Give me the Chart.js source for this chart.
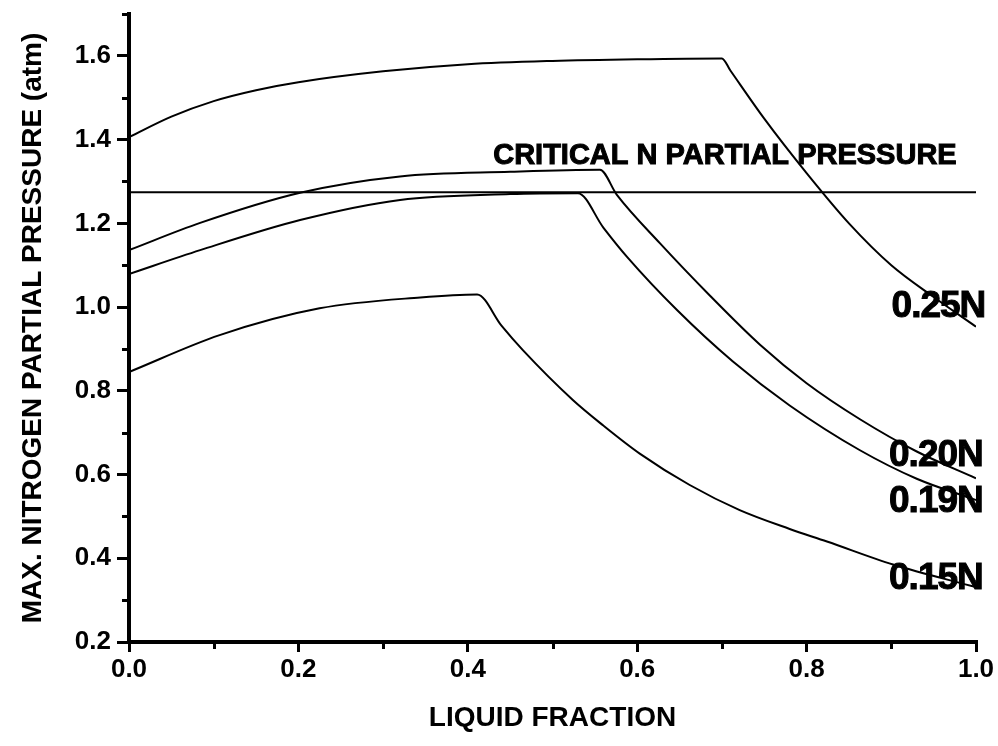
<!DOCTYPE html>
<html>
<head>
<meta charset="utf-8">
<script src="https://cdn.jsdelivr.net/npm/chart.js@4/dist/chart.umd.min.js"></script>
<style>
  html, body { margin: 0; padding: 0; background: #fff; }
  canvas { display: block; }
</style>
</head>
<body>
<canvas id="chart" width="998" height="746"></canvas>
<script>
// liquid fraction / max N partial pressure (atm)
const critX = [0, 1.0];
const critY = [1.274, 1.274];

const x025 = [0, 0.05, 0.1, 0.15, 0.2, 0.3, 0.4, 0.5, 0.6, 0.7, 0.71, 0.75, 0.8, 0.85, 0.9, 0.95, 1.0];
const y025 = [1.406, 1.455, 1.492, 1.518, 1.537, 1.563, 1.580, 1.588, 1.592, 1.594, 1.565, 1.45, 1.32, 1.20, 1.10, 1.024, 0.953];

const x020 = [0, 0.084, 0.202, 0.32, 0.45, 0.556, 0.576, 0.627, 0.686, 0.745, 0.80, 0.863, 0.93, 1.0];
const y020 = [1.136, 1.201, 1.273, 1.312, 1.323, 1.328, 1.268, 1.152, 1.027, 0.910, 0.818, 0.732, 0.655, 0.591];

const x019 = [0, 0.084, 0.202, 0.32, 0.45, 0.530, 0.56, 0.588, 0.647, 0.713, 0.78, 0.863, 0.93, 1.0];
const y019 = [1.079, 1.136, 1.208, 1.256, 1.270, 1.272, 1.190, 1.120, 0.993, 0.870, 0.765, 0.658, 0.590, 0.539];

const x015 = [0, 0.107, 0.225, 0.344, 0.411, 0.44, 0.465, 0.524, 0.56, 0.603, 0.662, 0.721, 0.78, 0.824, 0.902, 1.0];
const y015 = [0.845, 0.933, 0.997, 1.023, 1.030, 0.955, 0.897, 0.778, 0.717, 0.650, 0.575, 0.515, 0.470, 0.440, 0.385, 0.331];

const xMajor = [0, 0.2, 0.4, 0.6, 0.8, 1.0];
const xMinor = [0.1, 0.3, 0.5, 0.7, 0.9];
const yMajor = [0.2, 0.4, 0.6, 0.8, 1.0, 1.2, 1.4, 1.6];
const yMinor = [0.3, 0.5, 0.7, 0.9, 1.1, 1.3, 1.5, 1.7];

const seriesNames = ['CRITICAL N PARTIAL PRESSURE', '0.25N', '0.20N', '0.19N', '0.15N'];

function toPoints(xs, ys) {
    return xs.map((x, i) => ({ x: x, y: ys[i] }));
}

const FONT = '"Liberation Sans", Arial, Helvetica, sans-serif';

// where the curve labels sit (data units), kept apart from the data
const curveLabels = [
    { text: '0.25N', x: 1.011, y: 1.0, align: 'right', size: 37 },
    { text: '0.20N', x: 1.008, y: 0.644, align: 'right', size: 37 },
    { text: '0.19N', x: 1.008, y: 0.534, align: 'right', size: 37 },
    { text: '0.15N', x: 1.008, y: 0.352, align: 'right', size: 37 },
    { text: seriesNames[0], x: 0.43, y: 1.362, align: 'left', size: 29 }
];

// weißer Hintergrund
const whiteBg = {
    id: 'whiteBg',
    beforeDraw(chart) {
        const c = chart.ctx;
        c.save();
        c.fillStyle = '#fff';
        c.fillRect(0, 0, chart.width, chart.height);
        c.restore();
    }
};

// kleine Zwischenstriche + Kurvenbeschriftung
const extras = {
    id: 'extras',
    afterDraw(chart) {
        const c = chart.ctx;
        const xs = chart.scales.x, ys = chart.scales.y;
        const area = chart.chartArea;
        c.save();
        c.strokeStyle = '#000';
        c.lineWidth = 3;
        xMinor.forEach(v => {
            const px = Math.round(xs.getPixelForValue(v)) + 0.5;
            c.beginPath();
            c.moveTo(px, area.bottom);
            c.lineTo(px, area.bottom + 7);
            c.stroke();
        });
        yMinor.forEach(v => {
            const py = Math.round(ys.getPixelForValue(v)) + 0.5;
            c.beginPath();
            c.moveTo(area.left - 7, py);
            c.lineTo(area.left, py);
            c.stroke();
        });

        c.fillStyle = '#000';
        c.lineWidth = 1;
        c.textBaseline = 'middle';
        curveLabels.forEach(l => {
            c.font = 'bold ' + l.size + 'px ' + FONT;
            c.letterSpacing = l.size > 30 ? '-1px' : '0px';
            c.textAlign = l.align;
            const px = xs.getPixelForValue(l.x), py = ys.getPixelForValue(l.y);
            c.fillText(l.text, px, py);
            c.strokeText(l.text, px, py);
        });
        c.restore();
    }
};

function lineSet(label, xs, ys, width) {
    return {
        label: label,
        data: toPoints(xs, ys),
        borderColor: '#000',
        borderWidth: width,
        pointRadius: 0,
        fill: false,
        cubicInterpolationMode: 'monotone'
    };
}

const ctx = document.getElementById('chart').getContext('2d');
const chart = new Chart(ctx, {
    type: 'line',
    data: {
        datasets: [
            lineSet(seriesNames[0], critX, critY, 2),
            lineSet(seriesNames[1], x025, y025, 2),
            lineSet(seriesNames[2], x020, y020, 2),
            lineSet(seriesNames[3], x019, y019, 2),
            lineSet(seriesNames[4], x015, y015, 2)
        ]
    },
    options: {
        responsive: false,
        animation: false,
        layout: { padding: { top: 14, right: 22, left: 0, bottom: 0 } },
        plugins: {
            legend: { display: false },
            tooltip: { enabled: false }
        },
        scales: {
            x: {
                type: 'linear',
                min: 0,
                max: 1.0,
                afterBuildTicks: s => { s.ticks = xMajor.map(v => ({ value: v })); },
                afterFit: s => { s.height = 104; s.paddingLeft = 0; s.paddingRight = 0; },
                border: { display: true, color: '#000', width: 4 },
                grid: { drawOnChartArea: false, color: '#000', lineWidth: 3, tickLength: 10 },
                ticks: {
                    color: '#000',
                    padding: 2,
                    maxRotation: 0,
                    font: { family: FONT, size: 26, weight: 'bold' },
                    callback: v => Number(v).toFixed(1)
                },
                title: {
                    display: true,
                    text: 'LIQUID FRACTION',
                    color: '#000',
                    font: { family: FONT, size: 28, weight: 'bold' },
                    padding: { top: 0, bottom: 11 }
                }
            },
            y: {
                type: 'linear',
                min: 0.2,
                max: 1.7,
                afterBuildTicks: s => { s.ticks = yMajor.map(v => ({ value: v })); },
                afterFit: s => { s.width = 129; s.paddingTop = 0; s.paddingBottom = 0; },
                border: { display: true, color: '#000', width: 4 },
                grid: { drawOnChartArea: false, color: '#000', lineWidth: 3, tickLength: 12 },
                ticks: {
                    color: '#000',
                    padding: 6,
                    font: { family: FONT, size: 26, weight: 'bold' },
                    callback: v => Number(v).toFixed(1)
                },
                title: {
                    display: true,
                    text: 'MAX. NITROGEN PARTIAL PRESSURE (atm)',
                    color: '#000',
                    font: { family: FONT, size: 28, weight: 'bold' },
                    padding: { top: 16, bottom: 0 }
                }
            }
        }
    },
    plugins: [whiteBg, extras]
});
</script>
</body>
</html>
